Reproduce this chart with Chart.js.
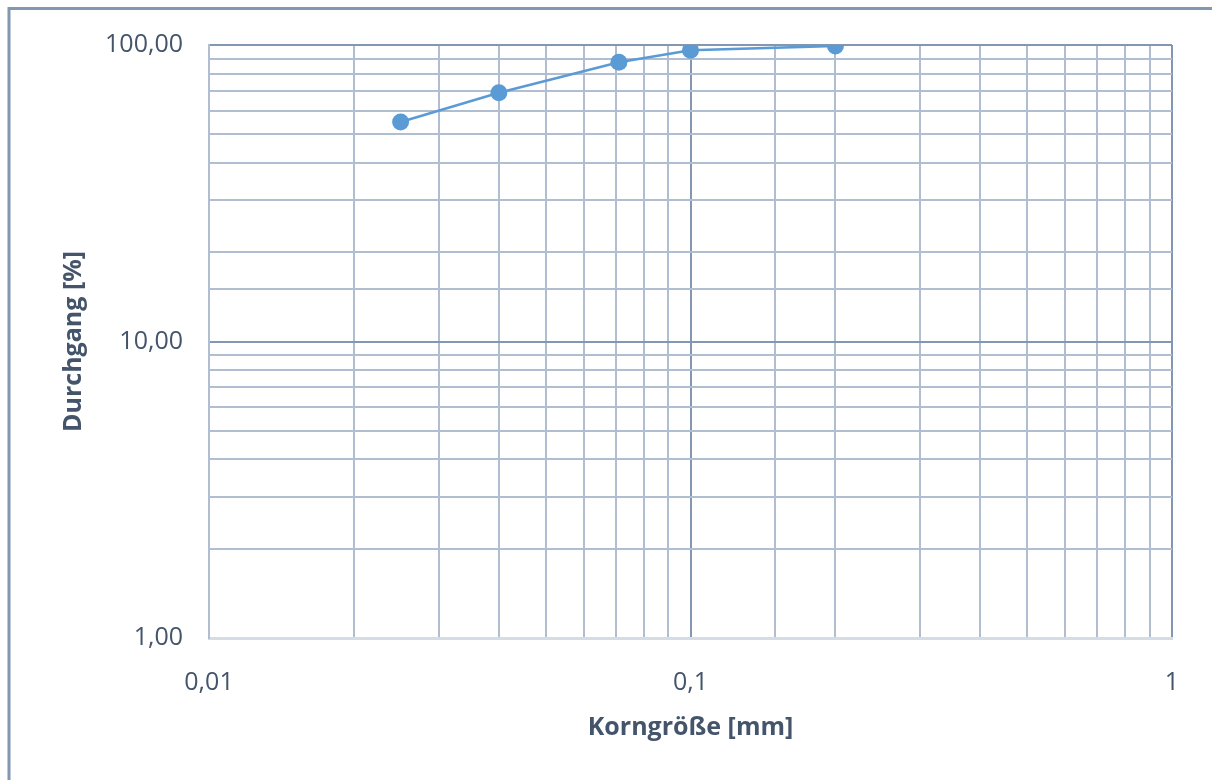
<!DOCTYPE html>
<html>
<head>
<meta charset="utf-8">
<script src="https://cdn.jsdelivr.net/npm/chart.js@4/dist/chart.umd.min.js"></script>
<style>
  html, body { margin: 0; padding: 0; background: #fff; }
  #wrap { width: 1212px; height: 780px; position: relative; }
</style>
</head>
<body>
<div id="wrap"><canvas id="sieve" width="1212" height="780"></canvas></div>
<script>
// Korngröße [mm] / Durchgang [%]
const grainSizes = [0.025, 0.04, 0.071, 0.1, 0.2];
const passing = [55, 69, 87.5, 96, 99.3];
const xTickValues = [0.01, 0.1, 1];
const xTickLabels = ["0,01", "0,1", "1"];
const yTickValues = [1, 10, 100];
const yTickLabels = ["1,00", "10,00", "100,00"];

const textColor = "#44546a";
const majorGrid = "#8497b0";
const minorGrid = "#b1bdd0";
const fontFamily = "'Open Sans', 'Noto Sans', sans-serif";

function isDecade(v) {
  const l = Math.log10(v);
  return Math.abs(l - Math.round(l)) < 1e-6;
}

function labelFor(values, labels, v) {
  const i = values.findIndex((t) => Math.abs(t - v) / t < 1e-6);
  return i >= 0 ? labels[i] : "";
}

// outer frame (left + top edge of the embedded chart)
const framePlugin = {
  id: "frame",
  beforeDraw(chart) {
    const ctx = chart.ctx;
    ctx.save();
    ctx.strokeStyle = majorGrid;
    ctx.lineWidth = 3;
    ctx.beginPath();
    ctx.moveTo(9, 780);
    ctx.lineTo(9, 8.5);
    ctx.lineTo(1212, 8.5);
    ctx.stroke();
    ctx.restore();
  },
};

const ctx = document.getElementById("sieve").getContext("2d");
new Chart(ctx, {
  type: "scatter",
  data: {
    datasets: [
      {
        data: grainSizes.map((x, i) => ({ x: x, y: passing[i] })),
        showLine: true,
        borderColor: "#5b9bd5",
        backgroundColor: "#5b9bd5",
        borderWidth: 2.5,
        pointRadius: 8.5,
        pointBorderWidth: 0,
      },
    ],
  },
  options: {
    responsive: false,
    animation: false,
    devicePixelRatio: 1,
    layout: { padding: { left: 0, top: 45, right: 40, bottom: 0 } },
    plugins: { legend: { display: false }, tooltip: { enabled: false } },
    scales: {
      x: {
        type: "logarithmic",
        min: 0.01,
        max: 1,
        afterFit: (scale) => { scale.height = 142; },
        grid: {
          drawTicks: false,
          tickLength: 0,
          lineWidth: 2,
          color: (c) => (c.tick && isDecade(c.tick.value) ? majorGrid : minorGrid),
        },
        border: { display: true, color: "#d6dce5", width: 3 },
        ticks: {
          autoSkip: false,
          maxRotation: 0,
          padding: 30,
          color: textColor,
          font: { family: fontFamily, size: 25 },
          callback: (v) => labelFor(xTickValues, xTickLabels, v),
        },
        title: {
          display: true,
          text: "Korngröße [mm]",
          color: textColor,
          font: { family: fontFamily, size: 25, weight: "bold" },
          padding: { top: 0, bottom: 37 },
        },
      },
      y: {
        type: "logarithmic",
        min: 1,
        max: 100,
        afterFit: (scale) => { scale.width = 209; },
        grid: {
          drawTicks: false,
          tickLength: 0,
          lineWidth: 2,
          color: (c) => (c.tick && isDecade(c.tick.value) ? majorGrid : minorGrid),
        },
        border: { display: true, color: minorGrid, width: 2 },
        ticks: {
          autoSkip: false,
          padding: 26,
          color: textColor,
          font: { family: fontFamily, size: 25 },
          callback: (v) => labelFor(yTickValues, yTickLabels, v),
        },
        title: {
          display: true,
          text: "Durchgang [%]",
          color: textColor,
          font: { family: fontFamily, size: 25, weight: "bold" },
          padding: { top: 59, bottom: 0 },
        },
      },
    },
  },
  plugins: [framePlugin],
});
</script>
</body>
</html>
